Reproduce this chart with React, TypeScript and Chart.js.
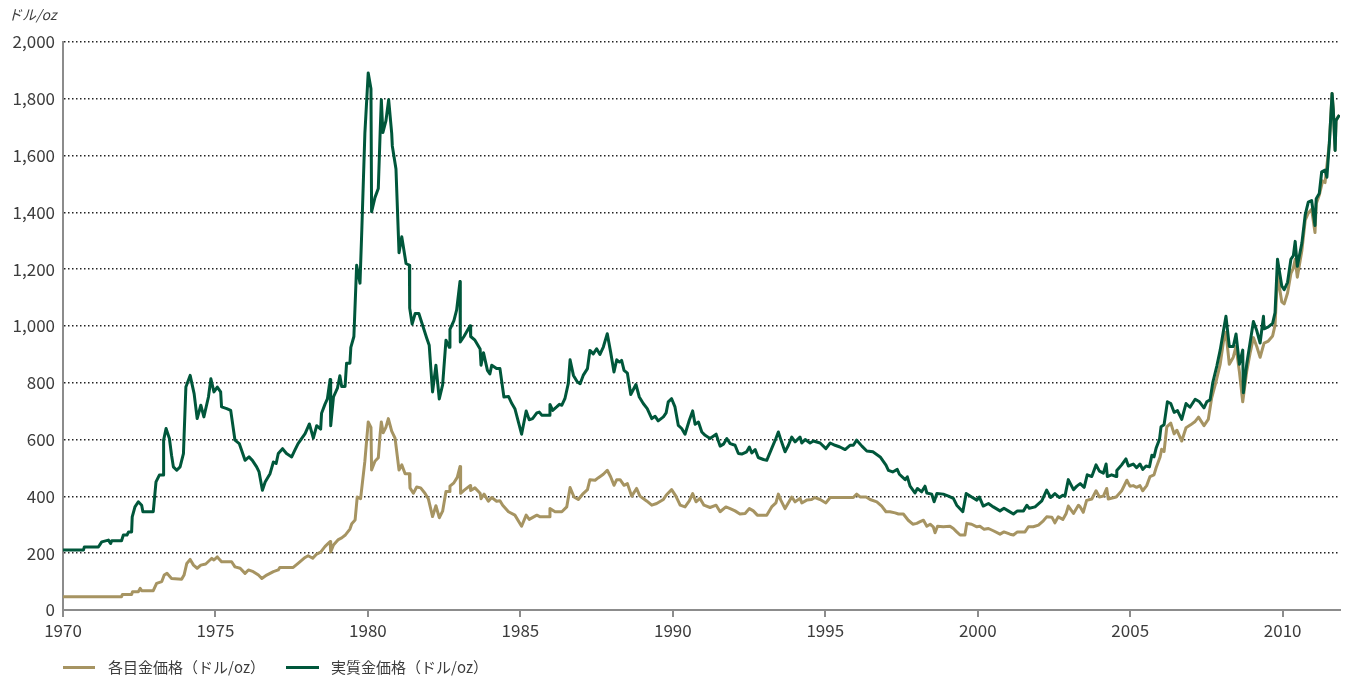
import React, { useEffect, useRef } from "react";
import { Chart, registerables } from "chart.js";

Chart.register(...registerables);

const unitLabel = "ドル/oz";
const seriesLabels = ["各目金価格（ドル/oz）", "実質金価格（ドル/oz）"];
const xTickYears = [1970, 1975, 1980, 1985, 1990, 1995, 2000, 2005, 2010];
const yTickValues = [0, 200, 400, 600, 800, 1000, 1200, 1400, 1600, 1800, 2000];

const realYears = [
  1970.0, 1970.67, 1970.7, 1971.16, 1971.27, 1971.49, 1971.56, 1971.6, 1971.92, 1971.98,
  1972.1, 1972.15, 1972.25, 1972.27, 1972.36, 1972.47, 1972.58, 1972.62, 1972.96, 1973.05,
  1973.16, 1973.28, 1973.3, 1973.38, 1973.49, 1973.56, 1973.62, 1973.73, 1973.84, 1973.95,
  1974.03, 1974.17, 1974.3, 1974.4, 1974.52, 1974.62, 1974.77, 1974.85, 1974.95, 1975.06,
  1975.17, 1975.2, 1975.37, 1975.5, 1975.64, 1975.78, 1975.86, 1975.97, 1976.1, 1976.21,
  1976.35, 1976.43, 1976.54, 1976.63, 1976.79, 1976.9, 1976.99, 1977.06, 1977.2, 1977.33,
  1977.5, 1977.6, 1977.71, 1977.83, 1977.94, 1978.08, 1978.21, 1978.32, 1978.45, 1978.48,
  1978.59, 1978.67, 1978.76, 1978.78, 1978.87, 1979.0, 1979.08, 1979.14, 1979.25, 1979.3,
  1979.41, 1979.44, 1979.54, 1979.63, 1979.74, 1979.8, 1979.9, 1980.01, 1980.1, 1980.12,
  1980.23, 1980.34, 1980.4, 1980.44, 1980.49, 1980.59, 1980.68, 1980.78, 1980.8, 1980.92,
  1981.02, 1981.11, 1981.25, 1981.36, 1981.37, 1981.45, 1981.55, 1981.67, 1981.82, 1981.93,
  1982.01, 1982.06, 1982.12, 1982.23, 1982.34, 1982.45, 1982.56, 1982.67, 1982.69, 1982.82,
  1982.91, 1983.02, 1983.03, 1983.15, 1983.35, 1983.37, 1983.51, 1983.68, 1983.71, 1983.79,
  1983.92, 1984.0, 1984.06, 1984.22, 1984.33, 1984.46, 1984.61, 1984.72, 1984.82, 1985.04,
  1985.19, 1985.29, 1985.4, 1985.54, 1985.62, 1985.7, 1985.95, 1985.97, 1986.06, 1986.19,
  1986.28, 1986.36, 1986.46, 1986.57, 1986.63, 1986.74, 1986.87, 1986.96, 1987.06, 1987.2,
  1987.28, 1987.39, 1987.5, 1987.61, 1987.72, 1987.85, 1987.96, 1988.07, 1988.16, 1988.25,
  1988.32, 1988.4, 1988.51, 1988.62, 1988.79, 1988.9, 1989.03, 1989.16, 1989.31, 1989.42,
  1989.52, 1989.69, 1989.78, 1989.85, 1989.96, 1990.07, 1990.18, 1990.29, 1990.4, 1990.54,
  1990.65, 1990.73, 1990.84, 1990.95, 1991.06, 1991.22, 1991.42, 1991.55, 1991.66, 1991.77,
  1991.88, 1992.04, 1992.15, 1992.26, 1992.42, 1992.51, 1992.59, 1992.7, 1992.8, 1992.97,
  1993.08, 1993.24, 1993.38, 1993.46, 1993.54, 1993.68, 1993.79, 1993.9, 1994.01, 1994.17,
  1994.23, 1994.34, 1994.5, 1994.61, 1994.83, 1995.02, 1995.16, 1995.32, 1995.48, 1995.65,
  1995.81, 1995.92, 1996.03, 1996.2, 1996.36, 1996.56, 1996.8, 1996.99, 1997.07, 1997.21,
  1997.36, 1997.43, 1997.62, 1997.69, 1997.78, 1997.94, 1998.02, 1998.16, 1998.27, 1998.33,
  1998.49, 1998.57, 1998.66, 1998.87, 1999.04, 1999.2, 1999.31, 1999.51, 1999.62, 1999.8,
  1999.97, 2000.05, 2000.18, 2000.35, 2000.51, 2000.73, 2000.86, 2001.0, 2001.17, 2001.3,
  2001.5, 2001.61, 2001.69, 2001.88, 2002.1, 2002.26, 2002.39, 2002.53, 2002.68, 2002.79,
  2002.86, 2002.97, 2003.14, 2003.25, 2003.36, 2003.49, 2003.59, 2003.74, 2003.88, 2003.99,
  2004.12, 2004.21, 2004.25, 2004.39, 2004.54, 2004.56, 2004.72, 2004.86, 2004.94, 2005.1,
  2005.21, 2005.32, 2005.41, 2005.52, 2005.63, 2005.71, 2005.78, 2005.85, 2005.96, 2006.01,
  2006.11, 2006.22, 2006.33, 2006.44, 2006.55, 2006.69, 2006.83, 2006.96, 2007.13, 2007.27,
  2007.42, 2007.51, 2007.62, 2007.71, 2007.84, 2007.95, 2008.06, 2008.14, 2008.25, 2008.38,
  2008.47, 2008.58, 2008.69, 2008.71, 2008.82, 2008.93, 2009.04, 2009.15, 2009.26, 2009.37,
  2009.39, 2009.53, 2009.67, 2009.75, 2009.83, 2009.97, 2010.05, 2010.16, 2010.27, 2010.35,
  2010.41, 2010.48, 2010.63, 2010.74, 2010.84, 2010.95, 2011.06, 2011.1, 2011.2, 2011.28,
  2011.39, 2011.45, 2011.53, 2011.62, 2011.66, 2011.72, 2011.75, 2011.86,
];
const realValues = [
  211, 211, 222, 222, 240, 246, 234, 244, 244, 264,
  264, 275, 275, 328, 363, 381, 369, 346, 346, 451,
  475, 475, 598, 639, 604, 545, 504, 492, 504, 551,
  785, 826, 762, 674, 721, 680, 750, 814, 768, 785,
  768, 715, 709, 703, 598, 586, 562, 527, 539, 527,
  504, 486, 422, 451, 480, 521, 516, 551, 568, 551,
  539, 562, 586, 604, 621, 655, 605, 649, 637, 693,
  724, 743, 812, 649, 750, 781, 825, 787, 787, 869,
  869, 925, 963, 1214, 1151, 1339, 1678, 1891, 1835, 1402,
  1452, 1484, 1678, 1797, 1681, 1722, 1797, 1678, 1634, 1553,
  1258, 1314, 1220, 1214, 1063, 1007, 1044, 1044, 994, 957,
  932, 856, 768, 862, 743, 793, 950, 925, 988, 1019,
  1057, 1157, 944, 963, 1001, 963, 950, 919, 862, 906,
  844, 831, 862, 850, 850, 750, 752, 727, 709, 619,
  701, 670, 674, 694, 697, 686, 686, 724, 703, 715,
  724, 721, 744, 797, 881, 826, 803, 797, 826, 850,
  914, 902, 920, 900, 926, 973, 908, 838, 881, 873,
  879, 844, 834, 759, 794, 750, 727, 709, 674, 682,
  666, 680, 694, 733, 744, 715, 650, 639, 619, 668,
  701, 654, 662, 627, 615, 604, 619, 577, 584, 604,
  586, 580, 551, 549, 557, 574, 553, 565, 537, 530,
  527, 568, 604, 627, 600, 557, 580, 609, 592, 609,
  588, 600, 588, 595, 588, 568, 588, 580, 574, 565,
  580, 580, 598, 577, 560, 557, 539, 510, 492, 486,
  495, 478, 459, 469, 436, 412, 428, 416, 436, 412,
  408, 381, 410, 408, 401, 393, 369, 346, 410, 398,
  387, 398, 366, 375, 363, 349, 358, 349, 338, 349,
  349, 369, 358, 363, 384, 422, 396, 410, 396, 404,
  401, 459, 424, 436, 445, 432, 476, 470, 511, 489,
  482, 514, 470, 476, 470, 491, 511, 532, 507, 514,
  501, 514, 495, 507, 504, 545, 539, 570, 601, 645,
  652, 733, 727, 696, 702, 671, 727, 714, 742, 733,
  712, 733, 740, 802, 859, 915, 984, 1034, 928, 928,
  972, 865, 915, 765, 865, 940, 1016, 984, 940, 1034,
  990, 997, 1009, 1047, 1235, 1141, 1128, 1154, 1235, 1248,
  1298, 1210, 1292, 1392, 1436, 1442, 1354, 1448, 1467, 1543,
  1549, 1524, 1643, 1819, 1762, 1618, 1724, 1743,
];

const nominalYears = [
  1970.0, 1971.92, 1971.95, 1972.25, 1972.28, 1972.47, 1972.53, 1972.58, 1972.96, 1973.07,
  1973.24, 1973.32, 1973.41, 1973.56, 1973.89, 1973.97, 1974.06, 1974.17, 1974.28, 1974.4,
  1974.52, 1974.68, 1974.82, 1974.88, 1974.95, 1975.06, 1975.2, 1975.53, 1975.64, 1975.81,
  1975.97, 1976.08, 1976.24, 1976.41, 1976.52, 1976.68, 1976.9, 1977.06, 1977.11, 1977.55,
  1977.71, 1977.94, 1978.04, 1978.19, 1978.32, 1978.45, 1978.59, 1978.7, 1978.76, 1978.78,
  1978.87, 1979.03, 1979.14, 1979.25, 1979.41, 1979.47, 1979.58, 1979.65, 1979.76, 1979.9,
  1980.01, 1980.1, 1980.12, 1980.23, 1980.34, 1980.4, 1980.44, 1980.5, 1980.59, 1980.67,
  1980.78, 1980.89, 1981.02, 1981.11, 1981.22, 1981.36, 1981.38, 1981.49, 1981.6, 1981.73,
  1981.87, 1981.98, 1982.12, 1982.23, 1982.34, 1982.45, 1982.56, 1982.67, 1982.69, 1982.82,
  1982.93, 1983.02, 1983.04, 1983.15, 1983.35, 1983.37, 1983.51, 1983.68, 1983.71, 1983.81,
  1983.95, 1984.06, 1984.22, 1984.33, 1984.42, 1984.61, 1984.82, 1985.04, 1985.19, 1985.29,
  1985.54, 1985.65, 1985.95, 1985.97, 1986.14, 1986.36, 1986.52, 1986.63, 1986.76, 1986.9,
  1987.06, 1987.2, 1987.28, 1987.45, 1987.56, 1987.72, 1987.85, 1987.96, 1988.07, 1988.16,
  1988.27, 1988.4, 1988.51, 1988.65, 1988.81, 1988.92, 1989.14, 1989.31, 1989.47, 1989.69,
  1989.78, 1989.96, 1990.1, 1990.24, 1990.4, 1990.54, 1990.65, 1990.76, 1990.89, 1991.02,
  1991.22, 1991.42, 1991.55, 1991.74, 1991.88, 1992.04, 1992.2, 1992.37, 1992.51, 1992.64,
  1992.77, 1993.08, 1993.24, 1993.38, 1993.46, 1993.54, 1993.68, 1993.9, 1994.01, 1994.17,
  1994.23, 1994.39, 1994.55, 1994.66, 1994.83, 1995.02, 1995.16, 1995.92, 1996.03, 1996.14,
  1996.34, 1996.47, 1996.69, 1996.85, 1996.99, 1997.12, 1997.29, 1997.4, 1997.56, 1997.72,
  1997.87, 1998.0, 1998.11, 1998.22, 1998.33, 1998.44, 1998.54, 1998.6, 1998.68, 1998.87,
  1999.09, 1999.2, 1999.31, 1999.42, 1999.58, 1999.64, 1999.8, 1999.97, 2000.07, 2000.21,
  2000.35, 2000.51, 2000.73, 2000.86, 2001.06, 2001.17, 2001.3, 2001.55, 2001.66, 2001.82,
  2001.99, 2002.15, 2002.26, 2002.43, 2002.53, 2002.64, 2002.79, 2002.9, 2002.97, 2003.14,
  2003.3, 2003.36, 2003.46, 2003.57, 2003.74, 2003.88, 2003.99, 2004.12, 2004.23, 2004.28,
  2004.54, 2004.72, 2004.89, 2004.99, 2005.1, 2005.21, 2005.32, 2005.41, 2005.54, 2005.65,
  2005.78, 2005.85, 2005.98, 2006.03, 2006.11, 2006.2, 2006.33, 2006.44, 2006.53, 2006.69,
  2006.83, 2006.98, 2007.13, 2007.24, 2007.42, 2007.56, 2007.67, 2007.81, 2007.95, 2008.06,
  2008.14, 2008.25, 2008.38, 2008.47, 2008.58, 2008.69, 2008.82, 2008.93, 2009.04, 2009.15,
  2009.26, 2009.39, 2009.53, 2009.67, 2009.75, 2009.83, 2009.97, 2010.05, 2010.16, 2010.27,
  2010.35, 2010.41, 2010.48, 2010.63, 2010.74, 2010.84, 2010.95, 2011.06, 2011.1, 2011.2,
  2011.31, 2011.39, 2011.53, 2011.62, 2011.66, 2011.72, 2011.75, 2011.86,
];
const nominalValues = [
  47, 47, 55, 55, 64, 64, 76, 68, 68, 94,
  100, 123, 129, 111, 108, 123, 164, 178, 158, 147,
  158, 162, 176, 182, 176, 187, 170, 170, 152, 147,
  129, 141, 135, 123, 111, 123, 135, 141, 150, 150,
  164, 185, 191, 182, 197, 204, 223, 235, 241, 204,
  229, 248, 254, 263, 285, 304, 317, 398, 392, 524,
  662, 643, 493, 524, 536, 618, 662, 624, 643, 674,
  630, 605, 493, 511, 480, 480, 430, 411, 433, 430,
  411, 392, 329, 367, 325, 348, 417, 417, 436, 448,
  467, 505, 411, 421, 438, 421, 430, 411, 392, 408,
  383, 396, 383, 385, 369, 346, 334, 295, 334, 319,
  334, 328, 328, 357, 346, 346, 363, 431, 398, 389,
  410, 424, 459, 457, 466, 478, 492, 469, 439, 459,
  459, 439, 445, 401, 428, 401, 384, 369, 375, 389,
  404, 424, 401, 369, 363, 384, 410, 381, 393, 369,
  361, 369, 346, 363, 357, 349, 338, 340, 357, 349,
  334, 334, 363, 377, 408, 387, 357, 398, 381, 393,
  377, 387, 389, 396, 389, 377, 396, 396, 408, 398,
  398, 389, 381, 366, 346, 346, 342, 338, 338, 316,
  302, 305, 311, 316, 295, 302, 293, 272, 295, 293,
  295, 287, 275, 264, 264, 305, 302, 293, 295, 284,
  287, 279, 267, 275, 267, 264, 275, 275, 293, 293,
  299, 314, 328, 327, 307, 328, 319, 340, 366, 340,
  369, 363, 344, 386, 391, 420, 398, 401, 428, 391,
  398, 420, 457, 436, 438, 432, 438, 420, 438, 470,
  476, 501, 539, 566, 558, 645, 658, 620, 633, 595,
  642, 652, 664, 679, 649, 671, 746, 802, 865, 947,
  978, 865, 890, 928, 840, 733, 840, 903, 959, 928,
  890, 940, 947, 965, 1003, 1179, 1085, 1078, 1116, 1185,
  1204, 1235, 1172, 1266, 1373, 1398, 1411, 1329, 1430, 1461,
  1511, 1505, 1643, 1819, 1762, 1618, 1724, 1743,
];

const GREEN = "#00573b";
const TAN = "#a69462";
const AXIS_GRAY = "#8c8c8c";
const TEXT = "#3c3c3c";
const FONT = "'Noto Sans CJK JP', 'Noto Sans', sans-serif";

export default function App() {
  const canvasRef = useRef<HTMLCanvasElement | null>(null);

  useEffect(() => {
    const canvas = canvasRef.current;
    if (!canvas) return;
    const chart = new Chart(canvas, {
      type: "line",
      data: {
        datasets: [
          {
            label: seriesLabels[1],
            data: realYears.map((x, i) => ({ x, y: realValues[i] })),
            borderColor: GREEN,
            backgroundColor: GREEN,
            borderWidth: 3,
            pointRadius: 0,
            tension: 0,
            fill: false,
            borderJoinStyle: "round",
          },
          {
            label: seriesLabels[0],
            data: nominalYears.map((x, i) => ({ x, y: nominalValues[i] })),
            borderColor: TAN,
            backgroundColor: TAN,
            borderWidth: 3,
            pointRadius: 0,
            tension: 0,
            fill: false,
            borderJoinStyle: "round",
          },
        ],
      },
      options: {
        animation: false,
        responsive: false,
        maintainAspectRatio: false,
        events: [],
        layout: { padding: { top: 42, right: 12, left: 0, bottom: 36 } },
        plugins: {
          legend: { display: false },
          tooltip: { enabled: false },
        },
        scales: {
          x: {
            type: "linear",
            min: 1970,
            max: 2011.88,
            afterBuildTicks: (s: any) => {
              s.ticks = xTickYears.map((v) => ({ value: v }));
            },
            afterFit: (s: any) => {
              s.height = 35;
            },
            ticks: {
              autoSkip: false,
              maxRotation: 0,
              padding: 3,
              color: TEXT,
              font: { family: FONT, size: 17 },
              callback: (v: any) => String(v),
            },
            grid: {
              display: true,
              drawOnChartArea: false,
              drawTicks: true,
              tickLength: 7,
              color: AXIS_GRAY,
              lineWidth: 2,
            },
            border: { display: true, color: AXIS_GRAY, width: 2 },
          },
          y: {
            type: "linear",
            min: 0,
            max: 2000,
            afterBuildTicks: (s: any) => {
              s.ticks = yTickValues.map((v) => ({ value: v }));
            },
            afterFit: (s: any) => {
              s.width = 63;
            },
            ticks: {
              padding: 8,
              color: TEXT,
              font: { family: FONT, size: 17 },
              callback: (v: any) => Number(v).toLocaleString("en-US"),
            },
            grid: {
              drawTicks: false,
              lineWidth: 1.5,
              color: (ctx: any) =>
                ctx.tick && ctx.tick.value === 0 ? "rgba(0,0,0,0)" : "#222222",
            },
            border: { display: true, color: AXIS_GRAY, width: 2, dash: [1.5, 2.5] },
          },
        },
      },
    });
    return () => chart.destroy();
  }, []);

  return (
    <div
      style={{
        position: "absolute",
        left: 0,
        top: 0,
        width: 1352,
        height: 681,
        background: "#fff",
        fontFamily: FONT,
      }}
    >
      <canvas
        ref={canvasRef}
        width={1352}
        height={681}
        style={{ position: "absolute", left: 0, top: 0, width: 1352, height: 681 }}
      />
      <div
        style={{
          position: "absolute",
          left: 8,
          top: 4,
          fontSize: 14,
          fontStyle: "italic",
          color: TEXT,
          lineHeight: "20px",
        }}
      >
        {unitLabel}
      </div>
      <div
        style={{
          position: "absolute",
          left: 63,
          top: 656,
          display: "flex",
          alignItems: "center",
          fontSize: 15,
          color: TEXT,
          lineHeight: "22px",
        }}
      >
        <span style={{ display: "inline-block", width: 32, height: 3, background: TAN }} />
        <span style={{ marginLeft: 13 }}>{seriesLabels[0]}</span>
        <span
          style={{ display: "inline-block", width: 33, height: 3, background: GREEN, marginLeft: 21 }}
        />
        <span style={{ marginLeft: 12 }}>{seriesLabels[1]}</span>
      </div>
    </div>
  );
}
